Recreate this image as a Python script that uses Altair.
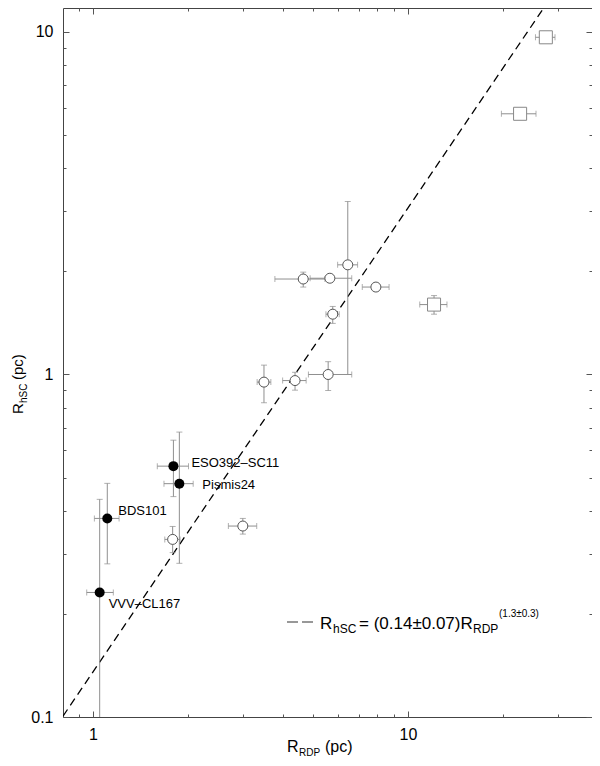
import altair as alt
import pandas as pd

# ---------------- data ----------------
# open circles
open_x   = [6.44, 4.65, 5.65, 7.91, 5.77, 5.58, 4.38, 3.49, 1.79, 2.99]
open_y   = [2.09, 1.90, 1.91, 1.80, 1.50, 1.00, 0.960, 0.950, 0.330, 0.361]
open_xlo = [5.98, 3.78, 4.89, 7.16, 5.49, 4.83, 4.00, 3.32, 1.69, 2.69]
open_xhi = [6.92, 5.45, 6.63, 8.71, 6.05, 6.63, 4.75, 3.67, 1.89, 3.31]
open_ylo = [1.00, 1.80, 1.91, 1.80, 1.41, 0.898, 0.90, 0.827, 0.302, 0.342]
open_yhi = [3.20, 1.99, 1.91, 1.80, 1.58, 1.09, 1.015, 1.065, 0.360, 0.380]

# filled circles (named clusters)
fill_name = ["ESO392–SC11", "Pismis24", "BDS101", "VVV–CL167"]
fill_x   = [1.80, 1.88, 1.11, 1.05]
fill_y   = [0.540, 0.480, 0.380, 0.231]
fill_xlo = [1.60, 1.68, 1.01, 0.955]
fill_xhi = [2.01, 2.08, 1.21, 1.16]
fill_ylo = [0.440, 0.281, 0.280, 0.08]
fill_yhi = [0.643, 0.679, 0.481, 0.432]

# squares
sq_x   = [27.4, 22.7, 12.1]
sq_y   = [9.65, 5.77, 1.60]
sq_xlo = [25.4, 19.8, 10.9]
sq_xhi = [29.3, 25.5, 13.3]
sq_ylo = [9.65, 5.77, 1.50]
sq_yhi = [9.65, 5.77, 1.70]

# dashed fit line (end points)
fit_x = [0.803, 27.4]
fit_y = [0.1006, 12.0]

# axis ticks
x_major = [1, 10]
x_minor = [0.9, 2, 3, 4, 5, 6, 7, 8, 9, 20, 30]
y_major = [0.1, 1, 10]
y_minor = [0.2, 0.3, 0.4, 0.5, 0.6, 0.7, 0.8, 0.9, 2, 3, 4, 5, 6, 7, 8, 9]

# texts
ytitle_parts = ["R", "hSC", "(pc)"]
xtitle_parts = ["R", "RDP", "(pc)"]
legend_parts = ["R", "hSC", "= (0.14±0.07)R", "RDP", "(1.3±0.3)"]

FONT = "Liberation Sans"
ERR = "#8f8f8f"

# ---------------- tables ----------------
def table(group, x, y, xlo, xhi, ylo, yhi, name=None):
    d = pd.DataFrame({"x": x, "y": y, "xlo": xlo, "xhi": xhi, "ylo": ylo, "yhi": yhi})
    d["group"] = group
    d["name"] = name if name is not None else ""
    return d

df = pd.concat([
    table("open", open_x, open_y, open_xlo, open_xhi, open_ylo, open_yhi),
    table("fill", fill_x, fill_y, fill_xlo, fill_xhi, fill_ylo, fill_yhi, fill_name),
    table("square", sq_x, sq_y, sq_xlo, sq_xhi, sq_ylo, sq_yhi),
], ignore_index=True)

hbars = df[df.xlo != df.xhi]
vbars = df[df.ylo != df.yhi]
hcaps = pd.concat([
    pd.DataFrame({"x": hbars.xlo, "y": hbars.y}),
    pd.DataFrame({"x": hbars.xhi, "y": hbars.y}),
], ignore_index=True)
vcaps = pd.concat([
    pd.DataFrame({"x": vbars.x, "y": vbars.ylo}),
    pd.DataFrame({"x": vbars.x, "y": vbars.yhi}),
], ignore_index=True)
fit = pd.DataFrame({"x": fit_x, "y": fit_y})
one = pd.DataFrame({"k": [0]})

xscale = alt.Scale(type="log", domain=[0.803, 38.4], nice=False)
yscale = alt.Scale(type="log", domain=[0.1, 11.75], nice=False)

X = lambda f="x": alt.X(f"{f}:Q", scale=xscale, axis=None)
Y = lambda f="y": alt.Y(f"{f}:Q", scale=yscale, axis=None)

layers = []

# ---------------- axes (labels + inward ticks on four sides) ----------------
lab = "format(datum.value, '~g')"
def ax_labels(orient, values, pad):
    return alt.Axis(orient=orient, values=values, ticks=False, domain=False, grid=False,
                    labelExpr=lab, labelFont=FONT, labelFontSize=16, labelColor="black",
                    labelPadding=pad, title=None, labelFlush=False, labelOverlap=False)

def ax_ticks(orient, values, size):
    return alt.Axis(orient=orient, values=values, labels=False, domain=False, grid=False,
                    ticks=True, tickSize={"expr": str(-size)}, tickColor="#555",
                    tickWidth=1, title=None)

axis_specs = [
    (ax_labels("bottom", x_major, 9), ax_labels("left", y_major, 10)),
    (ax_ticks("bottom", x_major, 6), ax_ticks("left", y_major, 6)),
    (ax_ticks("bottom", x_minor, 3), ax_ticks("left", y_minor, 3)),
    (ax_ticks("top", x_major, 6), ax_ticks("right", y_major, 6)),
    (ax_ticks("top", x_minor, 3), ax_ticks("right", y_minor, 3)),
]
for xa, ya in axis_specs:
    layers.append(alt.Chart(df).mark_point(opacity=0).encode(
        x=alt.X("x:Q", scale=xscale, axis=xa),
        y=alt.Y("y:Q", scale=yscale, axis=ya)))

# ---------------- fit line ----------------
layers.append(alt.Chart(fit).mark_line(color="black", strokeWidth=1.3, strokeDash=[8, 5], clip=True)
              .encode(x=X(), y=Y()))

# ---------------- error bars ----------------
layers.append(alt.Chart(hbars).mark_rule(color=ERR, strokeWidth=1, clip=True)
              .encode(x=X("xlo"), x2="xhi:Q", y=Y()))
layers.append(alt.Chart(vbars).mark_rule(color=ERR, strokeWidth=1, clip=True)
              .encode(x=X(), y=Y("ylo"), y2="yhi:Q"))
layers.append(alt.Chart(hcaps).mark_tick(color=ERR, orient="vertical", size=6, thickness=1, clip=True)
              .encode(x=X(), y=Y()))
layers.append(alt.Chart(vcaps).mark_tick(color=ERR, orient="horizontal", size=6, thickness=1, clip=True)
              .encode(x=X(), y=Y()))

# ---------------- markers ----------------
layers.append(alt.Chart(df[df.group == "open"]).mark_point(
    shape="circle", filled=True, fill="white", stroke="#555", strokeWidth=1, size=100, opacity=1)
    .encode(x=X(), y=Y()))
layers.append(alt.Chart(df[df.group == "square"]).mark_point(
    shape="square", filled=True, fill="white", stroke="#888", strokeWidth=1, size=170, opacity=1)
    .encode(x=X(), y=Y()))
layers.append(alt.Chart(df[df.group == "fill"]).mark_point(
    shape="circle", filled=True, color="black", size=100, opacity=1)
    .encode(x=X(), y=Y()))

# point labels
offsets = [(18, -3), (23, 1), (11, -7), (9, 12)]
for nm, (ddx, ddy) in zip(fill_name, offsets):
    layers.append(alt.Chart(df[df.name == nm]).mark_text(
        align="left", baseline="middle", dx=ddx, dy=ddy, font=FONT, fontSize=13, color="black")
        .encode(x=X(), y=Y(), text="name:N"))

# ---------------- free texts (titles, legend) ----------------
def txt(t, x, y, size, angle=0):
    return alt.Chart(one).mark_text(align="left", baseline="alphabetic", font=FONT,
                                    fontSize=size, color="black", angle=angle).encode(
        x=alt.value(x), y=alt.value(y), text=alt.value(t))

# y title (rotated)
layers.append(txt(ytitle_parts[0], -40, 406, 15, 270))
layers.append(txt(ytitle_parts[1], -36, 395, 10, 270))
layers.append(txt(ytitle_parts[2], -40, 372, 15, 270))
# x title
layers.append(txt(xtitle_parts[0], 224, 744, 16))
layers.append(txt(xtitle_parts[1], 236, 748, 10))
layers.append(txt(xtitle_parts[2], 262, 744, 16))

# legend
layers.append(alt.Chart(one).mark_rule(color="#333", strokeWidth=1.2, strokeDash=[11, 4]).encode(
    x=alt.value(224), x2=alt.value(250), y=alt.value(614)))
layers.append(txt(legend_parts[0], 257, 621, 17))
layers.append(txt(legend_parts[1], 270, 625, 12))
layers.append(txt(legend_parts[2], 296, 621, 17))
layers.append(txt(legend_parts[3], 410, 625, 12))
layers.append(txt(legend_parts[4], 436, 609, 10))

chart = alt.layer(*layers).resolve_axis(x="independent", y="independent").properties(
    width=529, height=709,
    padding={"left": 55, "top": 0, "right": 0, "bottom": 40},
    autosize=alt.AutoSizeParams(type="none"),
).configure_view(stroke="#444", strokeWidth=1)

chart.save("out.html", embed_options={"renderer": "svg", "actions": False})
